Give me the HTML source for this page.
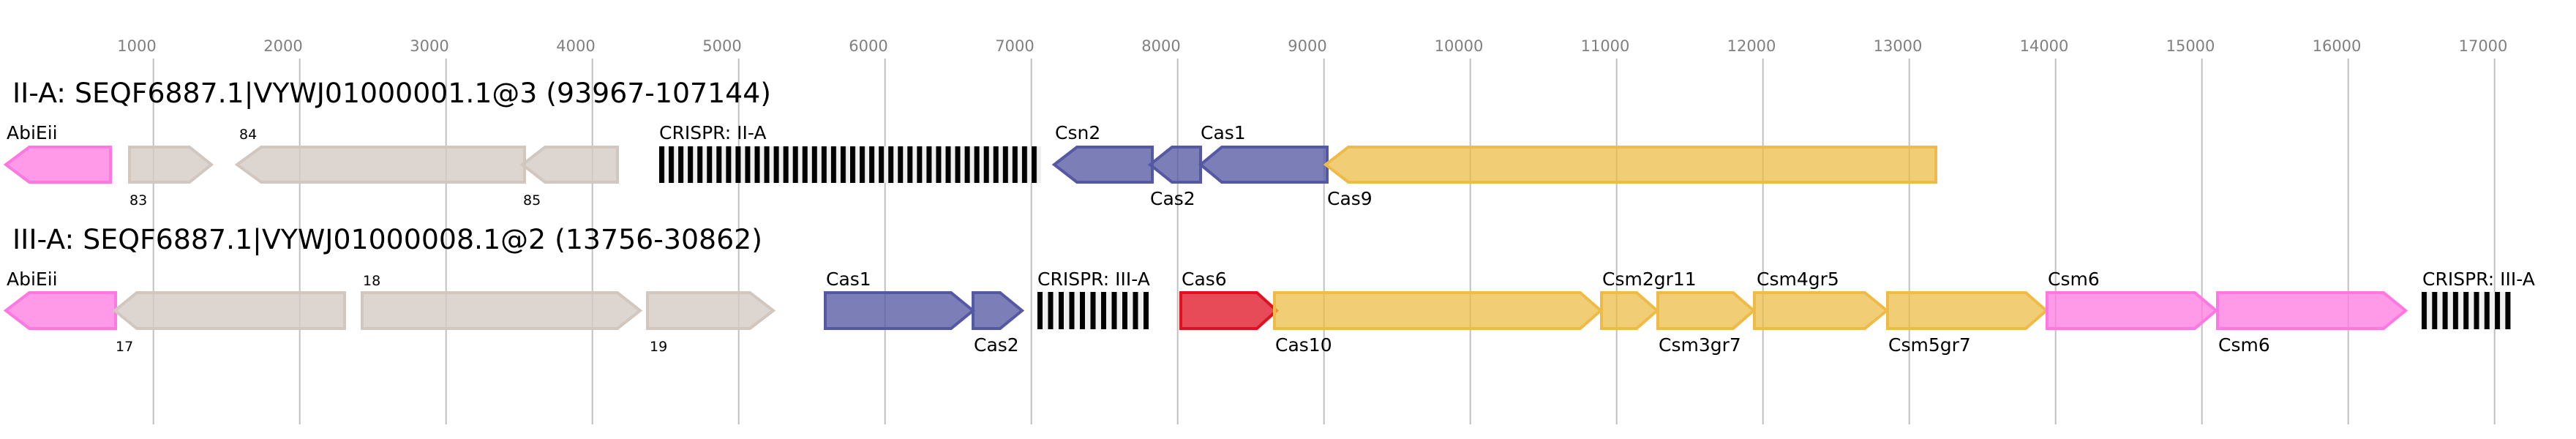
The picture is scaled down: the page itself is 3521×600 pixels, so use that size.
<!DOCTYPE html>
<html><head><meta charset="utf-8"><style>
html,body{margin:0;padding:0;background:#fff;}
svg{display:block;font-family:"DejaVu Sans","Liberation Sans",sans-serif;}
.ax{font-size:21px;fill:#808080;text-anchor:middle;}
.ti{font-size:37px;fill:#000;}
.lb{font-size:25px;fill:#000;}
.sm{font-size:19px;fill:#000;}
.g line{stroke:#c0c0c0;stroke-width:2;}
polygon{stroke-width:4;stroke-linejoin:miter;}
.pk{fill:rgba(255,125,226,0.78);stroke:#ff77e0;}
.gr{fill:rgba(213,203,196,0.8);stroke:#d2c7bf;}
.bl{fill:rgba(86,90,163,0.78);stroke:#5558a3;}
.go{fill:rgba(236,188,72,0.75);stroke:#eebb48;}
.rd{fill:rgba(224,30,45,0.8);stroke:#e0101f;}
</style></head><body>
<svg width="3521" height="600" viewBox="0 0 3521 600" xmlns="http://www.w3.org/2000/svg">
<defs>
<pattern id="cr1" x="901" y="0" width="13.05" height="10" patternUnits="userSpaceOnUse"><rect width="13.05" height="10" fill="#f0f0f0"/><rect width="7" height="10" fill="#000"/></pattern>
<pattern id="cr2" x="1418" y="0" width="14.5" height="10" patternUnits="userSpaceOnUse"><rect width="14.5" height="10" fill="#f0f0f0"/><rect width="7" height="10" fill="#000"/></pattern>
<pattern id="cr3" x="3310" y="0" width="14.3" height="10" patternUnits="userSpaceOnUse"><rect width="14.3" height="10" fill="#f0f0f0"/><rect width="7" height="10" fill="#000"/></pattern>
</defs>
<g class="g">
<line x1="209.7" y1="80" x2="209.7" y2="580"/><line x1="409.7" y1="80" x2="409.7" y2="580"/>
<line x1="609.7" y1="80" x2="609.7" y2="580"/><line x1="809.7" y1="80" x2="809.7" y2="580"/>
<line x1="1009.7" y1="80" x2="1009.7" y2="580"/><line x1="1209.7" y1="80" x2="1209.7" y2="580"/>
<line x1="1409.7" y1="80" x2="1409.7" y2="580"/><line x1="1609.7" y1="80" x2="1609.7" y2="580"/>
<line x1="1809.7" y1="80" x2="1809.7" y2="580"/><line x1="2009.7" y1="80" x2="2009.7" y2="580"/>
<line x1="2209.7" y1="80" x2="2209.7" y2="580"/><line x1="2409.7" y1="80" x2="2409.7" y2="580"/>
<line x1="2609.7" y1="80" x2="2609.7" y2="580"/><line x1="2809.7" y1="80" x2="2809.7" y2="580"/>
<line x1="3009.7" y1="80" x2="3009.7" y2="580"/><line x1="3209.7" y1="80" x2="3209.7" y2="580"/>
<line x1="3409.7" y1="80" x2="3409.7" y2="580"/>
</g>
<g class="ax">
<text x="187" y="70">1000</text><text x="387" y="70">2000</text><text x="587" y="70">3000</text><text x="787" y="70">4000</text>
<text x="987" y="70">5000</text><text x="1187" y="70">6000</text><text x="1387" y="70">7000</text><text x="1587" y="70">8000</text>
<text x="1787" y="70">9000</text><text x="1994" y="70">10000</text><text x="2194" y="70">11000</text><text x="2394" y="70">12000</text>
<text x="2594" y="70">13000</text><text x="2794" y="70">14000</text><text x="2994" y="70">15000</text><text x="3194" y="70">16000</text>
<text x="3394" y="70">17000</text>
</g>
<text class="ti" x="17" y="140" textLength="1037" lengthAdjust="spacingAndGlyphs">II-A: SEQF6887.1|VYWJ01000001.1@3 (93967-107144)</text>
<text class="ti" x="17" y="340" textLength="1025" lengthAdjust="spacingAndGlyphs">III-A: SEQF6887.1|VYWJ01000008.1@2 (13756-30862)</text>

<!-- Track 1 -->
<polygon class="pk" points="8,225 40,201 151,201 151,249 40,249"/>
<polygon class="gr" points="177,201 259,201 289,225 259,249 177,249"/>
<polygon class="gr" points="324,225 357,201 717,201 717,249 357,249"/>
<polygon class="gr" points="714,225 745,201 844,201 844,249 745,249"/>
<rect x="901" y="200" width="522" height="50" fill="url(#cr1)"/>
<polygon class="bl" points="1441,225 1472,201 1575,201 1575,249 1472,249"/>
<polygon class="bl" points="1572,225 1602,201 1641,201 1641,249 1602,249"/>
<polygon class="bl" points="1641,225 1670,201 1814,201 1814,249 1670,249"/>
<polygon class="go" points="1812,225 1843,201 2646,201 2646,249 1843,249"/>
<text class="lb" x="9" y="190">AbiEii</text>
<text class="sm" x="177" y="280">83</text>
<text class="sm" x="327" y="190">84</text>
<text class="sm" x="715" y="280">85</text>
<text class="lb" x="901" y="190">CRISPR: II-A</text>
<text class="lb" x="1442" y="190">Csn2</text>
<text class="lb" x="1572" y="280">Cas2</text>
<text class="lb" x="1641" y="190">Cas1</text>
<text class="lb" x="1814" y="280">Cas9</text>

<!-- Track 2 -->
<polygon class="pk" points="8,424.5 40,400 158,400 158,449 40,449"/>
<polygon class="gr" points="157,424.5 187,400 471,400 471,449 187,449"/>
<polygon class="gr" points="495,400 844,400 875,424.5 844,449 495,449"/>
<polygon class="gr" points="885,400 1025,400 1057,424.5 1025,449 885,449"/>
<polygon class="bl" points="1128,400 1300,400 1330,424.5 1300,449 1128,449"/>
<polygon class="bl" points="1330,400 1367,400 1397,424.5 1367,449 1330,449"/>
<rect x="1418" y="399" width="152" height="51" fill="url(#cr2)"/>
<polygon class="rd" points="1614,400 1718,400 1745,424.5 1718,449 1614,449"/>
<polygon class="go" points="1742,400 2160,400 2188,424.5 2160,449 1742,449"/>
<polygon class="go" points="2189,400 2237,400 2265,424.5 2237,449 2189,449"/>
<polygon class="go" points="2266,400 2369,400 2397,424.5 2369,449 2266,449"/>
<polygon class="go" points="2398,400 2549,400 2579,424.5 2549,449 2398,449"/>
<polygon class="go" points="2580,400 2769,400 2797,424.5 2769,449 2580,449"/>
<polygon class="pk" points="2798,400 3000,400 3029,424.5 3000,449 2798,449"/>
<polygon class="pk" points="3031,400 3258,400 3288,424.5 3258,449 3031,449"/>
<rect x="3310" y="399" width="122" height="51" fill="url(#cr3)"/>
<text class="lb" x="9" y="390">AbiEii</text>
<text class="sm" x="158" y="480">17</text>
<text class="sm" x="496" y="390">18</text>
<text class="sm" x="888" y="480">19</text>
<text class="lb" x="1129" y="390">Cas1</text>
<text class="lb" x="1331" y="480">Cas2</text>
<text class="lb" x="1418" y="390">CRISPR: III-A</text>
<text class="lb" x="1615" y="390">Cas6</text>
<text class="lb" x="1743" y="480">Cas10</text>
<text class="lb" x="2190" y="390">Csm2gr11</text>
<text class="lb" x="2267" y="480">Csm3gr7</text>
<text class="lb" x="2401" y="390">Csm4gr5</text>
<text class="lb" x="2581" y="480">Csm5gr7</text>
<text class="lb" x="2799" y="390">Csm6</text>
<text class="lb" x="3032" y="480">Csm6</text>
<text class="lb" x="3311" y="390">CRISPR: III-A</text>
</svg>
</body></html>
